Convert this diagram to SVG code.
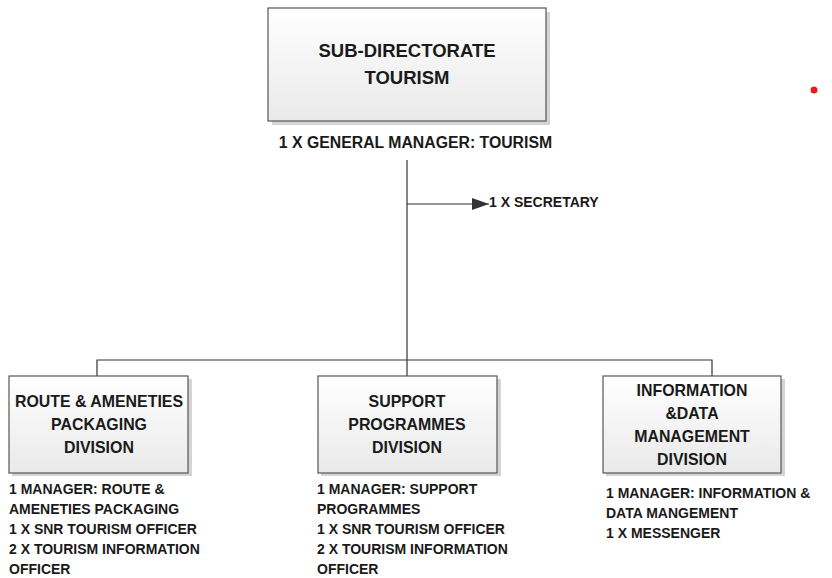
<svg xmlns="http://www.w3.org/2000/svg" width="832" height="578" viewBox="0 0 832 578">
<defs>
<linearGradient id="g" x1="0" y1="0" x2="0" y2="1">
<stop offset="0" stop-color="#ffffff"/>
<stop offset="1" stop-color="#e9e9e9"/>
</linearGradient>
<marker id="arr" markerWidth="18" markerHeight="12" refX="17" refY="6" orient="auto" markerUnits="userSpaceOnUse">
<path d="M0,0 L17,6 L0,12 Z" fill="#333"/>
</marker>
<style>
.box{fill:url(#g);stroke:#555;stroke-width:1.2}
.sh{fill:#d4d4d4}
.t{font-family:"Liberation Sans",Arial,sans-serif;font-weight:bold;fill:#1a1a1a;text-anchor:middle}
.l{font-family:"Liberation Sans",Arial,sans-serif;font-weight:bold;fill:#1a1a1a;font-size:14px}
.c{fill:none;stroke:#333;stroke-width:1.2}
</style>
</defs>
<rect width="832" height="578" fill="#fff"/>
<g id="connectors">
<path class="c" d="M407,160 V360"/>
<path class="c" d="M407,204 H489" marker-end="url(#arr)"/>
<path class="c" d="M97,376 V360 H712 V376"/>
<path class="c" d="M407,360 V376"/>
</g>
<g id="top">
<rect class="sh" x="272" y="12" width="278" height="113"/>
<rect class="box" x="268" y="8" width="278" height="113"/>
<text class="t" x="407" y="57" font-size="18.5">SUB-DIRECTORATE</text>
<text class="t" x="407" y="84" font-size="18.5">TOURISM</text>
<text class="t" x="415.5" y="148" font-size="15.8">1 X GENERAL MANAGER: TOURISM</text>
</g>
<g id="secretary">
<text class="l" x="489" y="207" font-size="10.3">1 X SECRETARY</text>
</g>
<g id="route">
<rect class="sh" x="12" y="379" width="180" height="97"/>
<rect class="box" x="9" y="376" width="179" height="97"/>
<text class="t" x="99" y="407" font-size="15.9">ROUTE &amp; AMENETIES</text>
<text class="t" x="99" y="430" font-size="15.9">PACKAGING</text>
<text class="t" x="99" y="453" font-size="15.9">DIVISION</text>
<text class="l" x="9" y="494">1 MANAGER: ROUTE &amp;</text>
<text class="l" x="9" y="514">AMENETIES PACKAGING</text>
<text class="l" x="9" y="534">1 X SNR TOURISM OFFICER</text>
<text class="l" x="9" y="554">2 X TOURISM INFORMATION</text>
<text class="l" x="9" y="574">OFFICER</text>
</g>
<g id="support">
<rect class="sh" x="321" y="379" width="180" height="97"/>
<rect class="box" x="318" y="376" width="179" height="97"/>
<text class="t" x="407" y="407" font-size="15.9">SUPPORT</text>
<text class="t" x="407" y="430" font-size="15.9">PROGRAMMES</text>
<text class="t" x="407" y="453" font-size="15.9">DIVISION</text>
<text class="l" x="317" y="494">1 MANAGER: SUPPORT</text>
<text class="l" x="317" y="514">PROGRAMMES</text>
<text class="l" x="317" y="534">1 X SNR TOURISM OFFICER</text>
<text class="l" x="317" y="554">2 X TOURISM INFORMATION</text>
<text class="l" x="317" y="574">OFFICER</text>
</g>
<g id="info">
<rect class="sh" x="606" y="379" width="179" height="97"/>
<rect class="box" x="603" y="376" width="178" height="97"/>
<text class="t" x="692" y="396" font-size="15.9">INFORMATION</text>
<text class="t" x="692" y="419" font-size="15.9">&amp;DATA</text>
<text class="t" x="692" y="442" font-size="15.9">MANAGEMENT</text>
<text class="t" x="692" y="465" font-size="15.9">DIVISION</text>
<text class="l" x="606" y="498">1 MANAGER: INFORMATION  &amp;</text>
<text class="l" x="606" y="518">DATA MANGEMENT</text>
<text class="l" x="606" y="538">1 X MESSENGER</text>
</g>
<circle cx="814" cy="90" r="3.5" fill="#e02020"/>
</svg>
